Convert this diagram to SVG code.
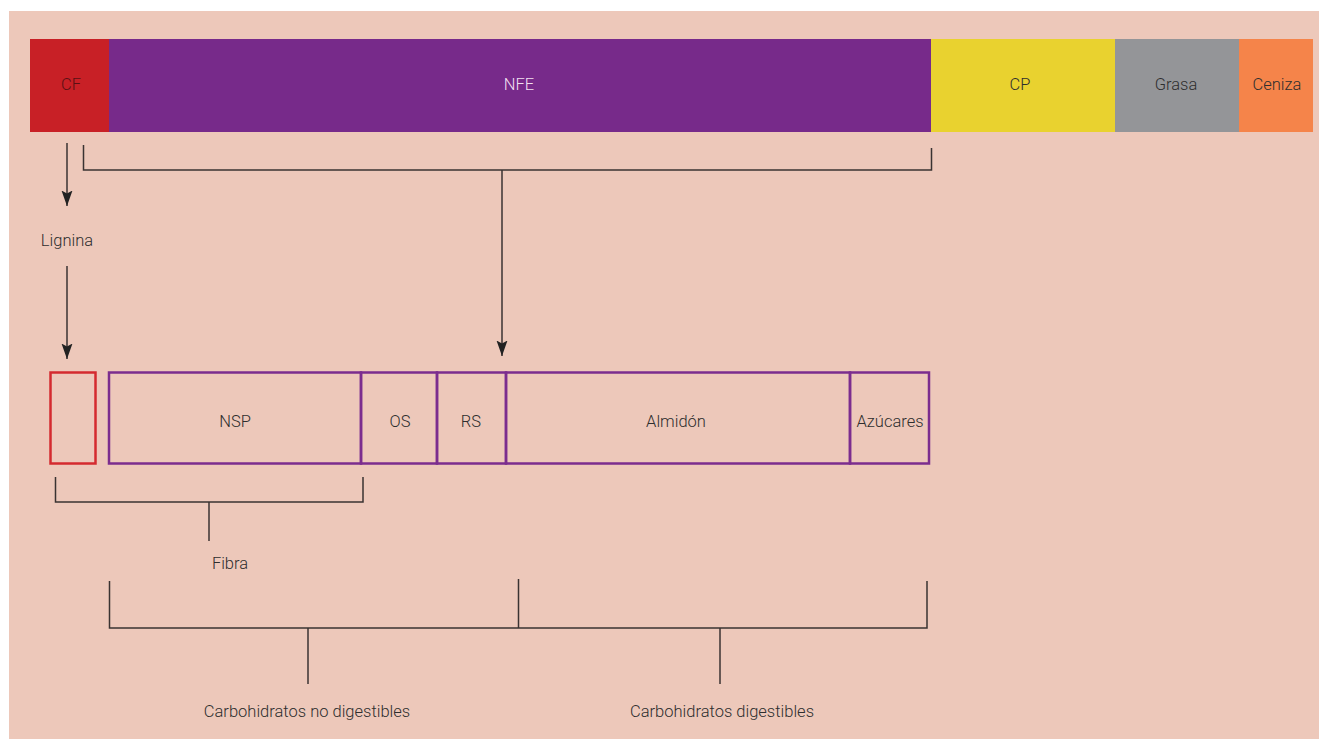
<svg xmlns="http://www.w3.org/2000/svg" width="1319" height="739" viewBox="0 0 1319 739">
<defs>
<marker id="ah" markerWidth="16" markerHeight="12" refX="15.5" refY="6" orient="auto" markerUnits="userSpaceOnUse" viewBox="0 0 16 12">
<path d="M0,0.5 L15.5,6 L0,11.5 L3,6 Z" fill="#222"/>
</marker>
</defs>
<style>
text{font-family:Roboto,"Liberation Sans",sans-serif;font-size:16.5px;font-weight:300;fill:#2e2e2e;text-anchor:middle}
.ln{stroke:#3a3332;stroke-width:1.5;fill:none}
.arr{stroke:#3a3332;stroke-width:1.5;fill:none}
.pb{fill:none;stroke:#7B2D8E;stroke-width:2.5}
.rb{fill:none;stroke:#D42A2F;stroke-width:2.5}
</style>
<rect x="9" y="11" width="1310" height="728" fill="#EDC8BA"/>
<g id="top-bar">
<g id="cf"><rect x="30" y="39" width="79.5" height="93" fill="#C82026"/><text x="71" y="89.5" style="fill:#5a1014">CF</text></g>
<g id="nfe"><rect x="109" y="39" width="822.5" height="93" fill="#772A8A"/><text x="519" y="89.5" style="fill:#f1dff0">NFE</text></g>
<g id="cp"><rect x="931" y="39" width="184.5" height="93" fill="#E9D22F"/><text x="1020" y="89.5">CP</text></g>
<g id="grasa"><rect x="1115" y="39" width="124.5" height="93" fill="#949598"/><text x="1176" y="89.5">Grasa</text></g>
<g id="ceniza"><rect x="1239" y="39" width="74" height="93" fill="#F5844A"/><text x="1277" y="89.5">Ceniza</text></g>
</g>
<g id="lignina"><text x="67" y="245.5">Lignina</text></g>
<g id="bottom-boxes">
<g id="lig-box"><rect x="50.5" y="372.5" width="45" height="91" class="rb"/></g>
<g id="nsp"><rect x="109" y="372.5" width="252" height="91" class="pb"/><text x="235" y="426.5">NSP</text></g>
<g id="os"><rect x="361" y="372.5" width="76" height="91" class="pb"/><text x="400" y="426.5">OS</text></g>
<g id="rs"><rect x="437" y="372.5" width="69" height="91" class="pb"/><text x="471" y="426.5">RS</text></g>
<g id="almidon"><rect x="506" y="372.5" width="344" height="91" class="pb"/><text x="676" y="426.5">Almidón</text></g>
<g id="azucares"><rect x="850" y="372.5" width="79" height="91" class="pb"/><text x="890" y="426.5">Azúcares</text></g>
</g>
<g id="fibra"><text x="230" y="568.5">Fibra</text></g>
<g id="cnd"><text x="307" y="716.5">Carbohidratos no digestibles</text></g>
<g id="cd"><text x="722" y="716.5">Carbohidratos digestibles</text></g>
<g id="connectors">
<line x1="67" y1="143" x2="67" y2="206" class="arr" marker-end="url(#ah)"/>
<line x1="67" y1="266" x2="67" y2="359" class="arr" marker-end="url(#ah)"/>
<polyline points="83.5,145 83.5,170 931.5,170 931.5,148" class="ln"/>
<line x1="502" y1="170" x2="502" y2="356" class="arr" marker-end="url(#ah)"/>
<polyline points="55.5,477 55.5,502 363,502 363,477" class="ln"/>
<line x1="209" y1="502" x2="209" y2="541" class="ln"/>
<polyline points="109.5,581 109.5,628 927,628 927,581" class="ln"/>
<line x1="518.5" y1="579" x2="518.5" y2="628" class="ln"/>
<line x1="308" y1="628" x2="308" y2="684" class="ln"/>
<line x1="720" y1="628" x2="720" y2="684" class="ln"/>
</g>
</svg>
